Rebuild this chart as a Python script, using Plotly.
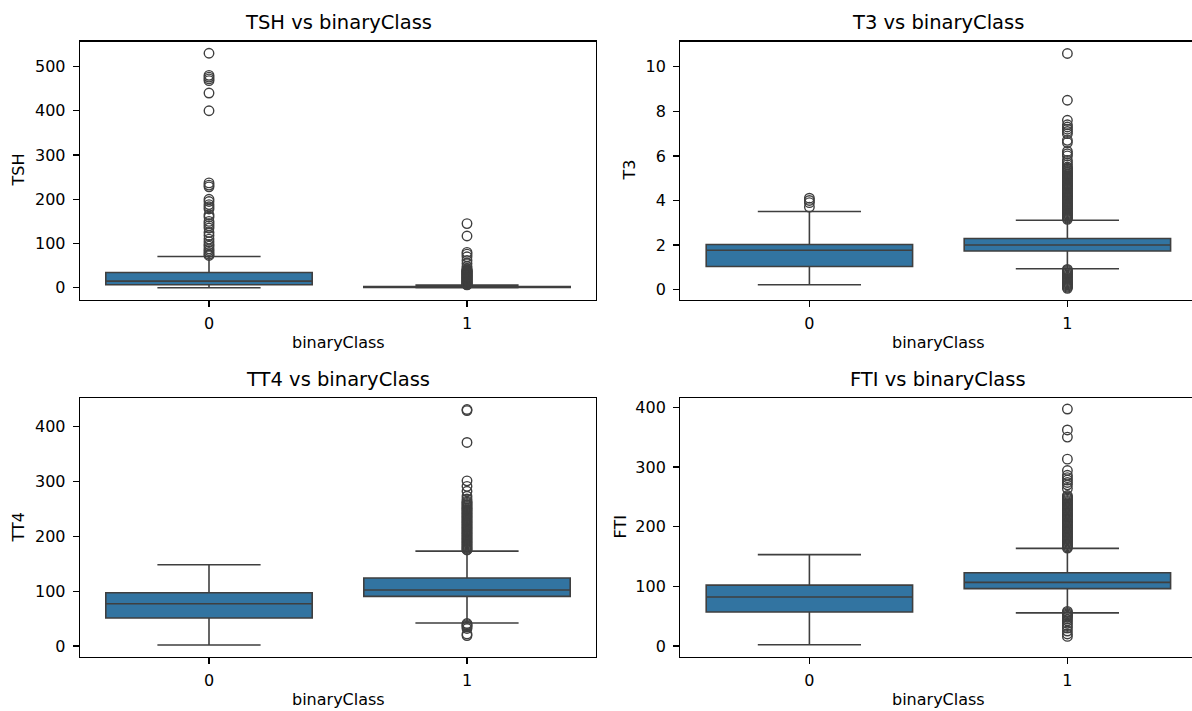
import plotly.graph_objects as go

W, H = 1192, 711

classes = [0, 1]
class_labels = ["0", "1"]

# --- TSH ---
tsh_q1 = [6.8, 0.5]
tsh_median = [15.0, 1.4]
tsh_q3 = [34.6, 2.7]
tsh_low = [0.005, 0.005]
tsh_high = [70.5, 5.9]
tsh_out0 = [530, 480, 476, 472, 468, 440, 400, 237, 232, 228, 200, 195, 188, 183,
            178, 165, 160, 150, 145, 140, 135, 125, 118, 110, 104, 98, 94, 88, 84,
            80, 76, 73]
tsh_out1 = [145, 117, 80, 76, 70, 62, 55, 48, 44, 41, 40, 39, 38, 37, 36, 35, 34,
            33, 32, 31, 30, 29, 28, 27, 26, 25, 24, 23, 22, 21, 20, 19, 18, 17, 16,
            15, 14, 13, 12, 11, 10, 9, 8, 7, 6.5]

# --- T3 ---
t3_q1 = [1.03, 1.73]
t3_median = [1.76, 2.0]
t3_q3 = [2.02, 2.29]
t3_low = [0.21, 0.93]
t3_high = [3.5, 3.11]
t3_out0 = [4.1, 4.0, 3.9, 3.7]
t3_out1 = [10.6, 8.5, 7.6, 7.4, 7.3, 7.2, 7.1, 7.0, 6.7, 6.6, 6.2, 6.1, 6.0, 5.8,
           5.7, 5.6, 5.5, 5.45, 5.4, 5.35, 5.3, 5.25, 5.2, 5.15, 5.1, 5.05, 5.0,
           4.95, 4.9, 4.85, 4.8, 4.75, 4.7, 4.65, 4.6, 4.55, 4.5, 4.45, 4.4, 4.35,
           4.3, 4.25, 4.2, 4.15, 4.1, 4.05, 4.0, 3.95, 3.9, 3.85, 3.8, 3.75, 3.7,
           3.65, 3.6, 3.55, 3.5, 3.45, 3.4, 3.35, 3.3, 3.25, 3.2, 3.15,
           0.9, 0.85, 0.8, 0.75, 0.7, 0.65, 0.6, 0.55, 0.5, 0.45, 0.4, 0.35, 0.3,
           0.25, 0.2, 0.15, 0.1, 0.05]

# --- TT4 ---
tt4_q1 = [51, 90.6]
tt4_median = [77, 102]
tt4_q3 = [97, 124]
tt4_low = [2, 42]
tt4_high = [148, 173]
tt4_out0 = []
tt4_out1 = [431, 429, 371, 301, 291, 282, 273, 268, 264, 262, 260, 258, 256, 254,
            252, 250, 248, 246, 244, 242, 240, 238, 236, 234, 232, 230, 228, 226,
            224, 222, 220, 218, 216, 214, 212, 210, 208, 206, 204, 202, 200, 198,
            196, 194, 192, 190, 188, 186, 184, 182, 180, 178, 176, 175,
            41, 39, 37, 35, 32, 22, 19]

# --- FTI ---
fti_q1 = [57, 96]
fti_median = [82, 106.5]
fti_q3 = [102, 122.7]
fti_low = [2, 55.5]
fti_high = [153, 163.5]
fti_out0 = []
fti_out1 = [397, 362, 350, 313, 294, 286, 282, 278, 274, 270, 264, 252, 250, 248,
            246, 244, 242, 240, 238, 236, 234, 232, 230, 228, 226, 224, 222, 220,
            218, 216, 214, 212, 210, 208, 206, 204, 202, 200, 198, 196, 194, 192,
            190, 188, 186, 184, 182, 180, 178, 176, 174, 172, 170, 168, 166, 164,
            58, 56, 54, 52, 50, 48, 45, 42, 38, 34, 30, 25, 20, 16]

panels = [
    dict(name="TSH", q1=tsh_q1, med=tsh_median, q3=tsh_q3, lo=tsh_low, hi=tsh_high,
         out0=tsh_out0, out1=tsh_out1, yr=[-26.5, 556.5], dt=100),
    dict(name="T3", q1=t3_q1, med=t3_median, q3=t3_q3, lo=t3_low, hi=t3_high,
         out0=t3_out0, out1=t3_out1, yr=[-0.45, 11.14], dt=2),
    dict(name="TT4", q1=tt4_q1, med=tt4_median, q3=tt4_q3, lo=tt4_low, hi=tt4_high,
         out0=tt4_out0, out1=tt4_out1, yr=[-19.4, 451.4], dt=100),
    dict(name="FTI", q1=fti_q1, med=fti_median, q3=fti_q3, lo=fti_low, hi=fti_high,
         out0=fti_out0, out1=fti_out1, yr=[-18, 415], dt=100),
]

# pixel geometry (left, right, top, bottom)
geo = [
    (80, 596, 41.5, 299.5),
    (680.4, 1192, 41.5, 299.5),
    (80, 596, 398.3, 656.7),
    (680.4, 1192, 398.3, 656.7),
]
xranges = [[-0.5, 1.5], [-0.5, 1.483], [-0.5, 1.5], [-0.5, 1.483]]
ylabel_x = [18, 629, 18, 620]
full_right = [596, 1196.4, 596, 1196.4]

FONT = "DejaVu Sans"
BOX_FILL = "#3274a1"
LINE = "#3f3f3f"

fig = go.Figure()
annotations = []

for i, p in enumerate(panels):
    ax = "" if i == 0 else str(i + 1)
    xa, ya = "x" + ax, "y" + ax
    fig.add_trace(go.Box(
        x=classes, q1=p["q1"], median=p["med"], q3=p["q3"],
        lowerfence=p["lo"], upperfence=p["hi"],
        boxpoints=False, width=0.8, whiskerwidth=0.5,
        fillcolor=BOX_FILL, line=dict(color=LINE, width=1.6),
        xaxis=xa, yaxis=ya, showlegend=False, hoverinfo="skip",
    ))
    ox = [0] * len(p["out0"]) + [1] * len(p["out1"])
    oy = list(p["out0"]) + list(p["out1"])
    fig.add_trace(go.Scatter(
        x=ox, y=oy, mode="markers",
        marker=dict(symbol="circle-open", size=9.5, color=LINE,
                    line=dict(width=1.4, color=LINE)),
        xaxis=xa, yaxis=ya, showlegend=False, hoverinfo="skip",
    ))
    l, r, t, b = geo[i]
    right_is_cut = r >= W
    xaxis = dict(
        domain=[l / W, r / W], range=xranges[i], anchor=ya,
        tickmode="array", tickvals=classes, ticktext=class_labels,
        showline=True, linecolor="black", linewidth=1.3,
        mirror=True, ticks="outside", ticklen=6, tickwidth=1.2,
        tickcolor="black", showgrid=False, zeroline=False,
        tickfont=dict(family=FONT, size=16, color="black"),
        ticklabelstandoff=3, fixedrange=True,
    )
    yaxis = dict(
        domain=[1 - b / H, 1 - t / H], range=p["yr"], anchor=xa,
        tickmode="linear", tick0=0, dtick=p["dt"],
        showline=True, linecolor="black", linewidth=1.3,
        mirror=(not right_is_cut), ticks="outside", ticklen=6, tickwidth=1.2,
        tickcolor="black", showgrid=False, zeroline=False,
        tickfont=dict(family=FONT, size=16, color="black"),
        ticklabelstandoff=4, fixedrange=True,
    )
    fig.update_layout(**{"xaxis" + ax: xaxis, "yaxis" + ax: yaxis})

    cx = (l + full_right[i]) / 2
    annotations.append(dict(
        text=f"{p['name']} vs binaryClass", x=cx / W, y=1 - (t - 5) / H,
        xref="paper", yref="paper", xanchor="center", yanchor="bottom",
        showarrow=False, font=dict(family=FONT, size=19.5, color="black"),
    ))
    annotations.append(dict(
        text="binaryClass", x=cx / W, y=1 - (b + 43) / H,
        xref="paper", yref="paper", xanchor="center", yanchor="middle",
        showarrow=False, font=dict(family=FONT, size=16, color="black"),
    ))
    annotations.append(dict(
        text=p["name"], x=ylabel_x[i] / W, y=1 - ((t + b) / 2) / H,
        xref="paper", yref="paper", xanchor="center", yanchor="middle",
        textangle=-90, showarrow=False,
        font=dict(family=FONT, size=16, color="black"),
    ))

fig.update_layout(
    width=W, height=H, margin=dict(l=0, r=0, t=0, b=0),
    paper_bgcolor="white", plot_bgcolor="white",
    annotations=annotations, showlegend=False,
)

fig.write_html(
    "out.html",
    config={"displayModeBar": False, "staticPlot": True},
    post_script="document.body.style.margin='0px';document.body.style.overflow='hidden';",
)
